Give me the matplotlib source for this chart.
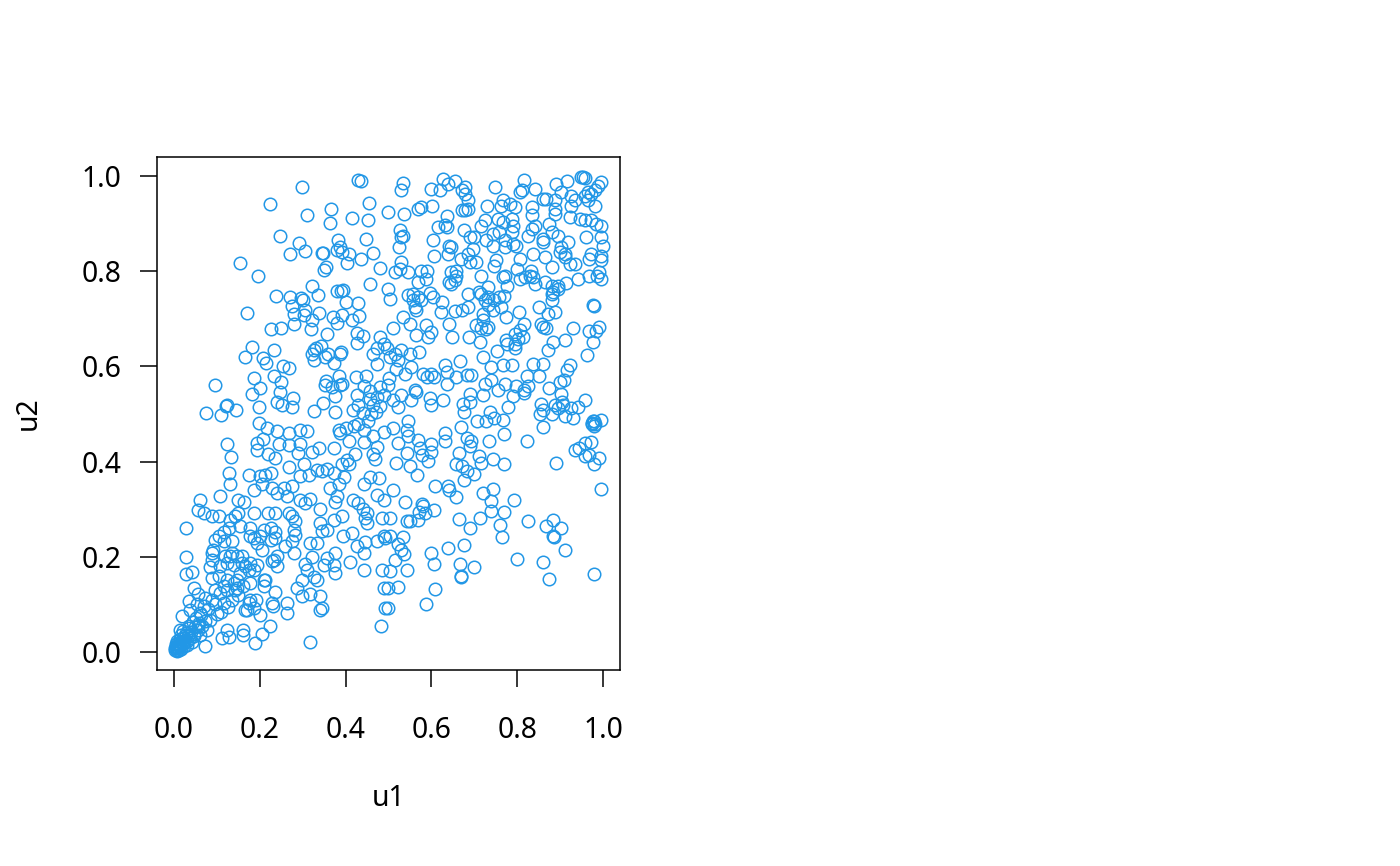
import numpy as np
import matplotlib
matplotlib.use('Agg')
import matplotlib.pyplot as plt

# values, grouped by region of the plot
upper_left_u1 = [.298, .224, .309, .430, .436, .454, .366, .364, .416, .453,
                 .246, .291, .271, .305, .383, .387, .380, .391, .345, .347,
                 .447, .465, .407, .404, .436, .155, .196, .355, .350, .480,
                 .457, .322, .238, .270, .296, .300, .335, .274, .379, .390,
                 .394, .400, .430, .170, .279, .306, .302, .279, .339, .370,
                 .381, .392, .415, .432, .226, .250, .320, .322, .357, .426,
                 .441, .427, .481, .489, .473, .465, .474, .496, .182, .234,
                 .166, .207, .215, .326, .322, .332, .343, .326, .353, .358,
                 .372, .386, .390, .254, .267, .234, .249, .187, .201, .182,
                 .096, .246, .277, .240, .251, .275, .198, .124, .121, .145,
                 .074, .110, .354, .353, .384, .368, .388, .376, .392, .424,
                 .448, .444, .426, .347, .327, .376, .430, .418, .473, .481,
                 .457, .489, .465, .499, .480, .470, .456, .440, .500, .510]
upper_left_u2 = [.977, .941, .919, .991, .989, .944, .930, .902, .912, .907,
                 .873, .860, .837, .842, .865, .851, .845, .840, .838, .838,
                 .867, .839, .836, .817, .826, .818, .789, .809, .802, .806,
                 .773, .770, .748, .745, .743, .739, .751, .727, .758, .759,
                 .761, .736, .734, .713, .711, .718, .708, .690, .713, .704,
                 .692, .709, .697, .706, .678, .680, .678, .697, .669, .671,
                 .663, .649, .662, .648, .638, .626, .605, .638, .640, .634,
                 .620, .618, .607, .634, .627, .638, .643, .613, .620, .627,
                 .608, .627, .630, .600, .597, .579, .567, .576, .554, .543,
                 .560, .547, .533, .526, .519, .514, .515, .518, .516, .509,
                 .502, .497, .569, .560, .579, .557, .560, .538, .564, .578,
                 .579, .558, .539, .524, .507, .505, .518, .508, .535, .557,
                 .532, .541, .520, .560, .517, .505, .548, .503, .575, .530]

upper_right_u1 = [.534, .528, .600, .619, .628, .639, .654, .679, .671, .678,
                  .749, .817, .812, .806, .841, .890, .916, .949, .954, .958,
                  .996, .988, .981, .973, .965, .957, .902, .926, .934, .981,
                  .887, .965, .499, .537, .568, .576, .602, .685, .678, .671,
                  .685, .730, .766, .762, .784, .795, .834, .834, .860, .868,
                  .887, .888, .923, .926, .957, .946, .972, .995, .983, .636,
                  .631, .615, .637, .675, .724, .716, .755, .766, .787, .790,
                  .526, .534, .530, .524, .603, .607, .642, .646, .639, .689,
                  .700, .728, .743, .758, .787, .772, .790, .772, .743, .798,
                  .834, .826, .842, .875, .880, .895, .860, .860, .918, .961,
                  .995, .999, .903, .899, .911, .973, .968, .995, .995, .922,
                  .934, .911, .837, .864, .880, .807, .696, .685, .670, .689,
                  .704, .751, .747, .799, .771, .766, .530, .514, .545, .526,
                  .576, .590, .588, .569, .658, .646, .658, .642, .654, .646,
                  .716, .833, .837, .829, .841, .864, .880, .895, .914, .941,
                  .968, .987, .995, .991, .818, .806, .777, .731, .685, .712,
                  .884, .895, .499, .503, .545, .556, .556, .568, .576, .597,
                  .603, .625, .622, .565, .562, .655, .672, .686, .716, .724,
                  .731, .747, .758, .770, .731, .762, .743, .773, .720, .805,
                  .851, .887, .872, .880, .880, .534, .549, .588, .600, .510,
                  .565, .592, .642, .648, .687, .705, .720, .731, .716, .727,
                  .713, .773, .796, .817, .807, .801, .794, .813, .796, .777,
                  .856, .860, .868, .930, .911, .884, .872, .968, .991, .983,
                  .976, .963, .978, .977, .752, .721, .740, .766, .787, .837,
                  .859, .822, .851, .922, .915, .910, .899, .874, .903, .957,
                  .942, .666, .631, .636, .636, .600, .580, .590, .607, .682,
                  .693, .658, .572, .530, .514, .549, .522, .503, .553, .518,
                  .538, .724, .740, .771, .755, .720, .689, .673, .689, .798,
                  .817, .826, .817, .790, .561, .565, .530, .553, .596, .627,
                  .600, .522, .778, .736, .856, .860, .887, .906, .926, .677]
upper_right_u2 = [.986, .970, .973, .970, .994, .984, .989, .978, .970, .963,
                  .978, .992, .970, .966, .973, .984, .989, .998, .998, .995,
                  .987, .980, .970, .963, .966, .959, .966, .959, .949, .938,
                  .949, .949, .924, .921, .931, .935, .937, .949, .928, .928,
                  .931, .938, .949, .938, .942, .935, .935, .918, .952, .952,
                  .931, .921, .914, .938, .907, .910, .907, .896, .900, .917,
                  .897, .893, .893, .886, .907, .896, .910, .903, .910, .896,
                  .887, .875, .872, .851, .865, .831, .854, .851, .837, .872,
                  .872, .865, .879, .882, .882, .865, .858, .851, .854, .854,
                  .889, .875, .896, .900, .882, .875, .868, .861, .861, .872,
                  .872, .854, .851, .840, .837, .837, .826, .833, .823, .816,
                  .816, .830, .836, .830, .809, .826, .847, .837, .826, .820,
                  .820, .823, .812, .805, .791, .788, .819, .798, .798, .805,
                  .801, .801, .784, .777, .801, .798, .791, .777, .781, .773,
                  .791, .801, .787, .791, .774, .777, .770, .770, .775, .784,
                  .791, .791, .784, .798, .788, .784, .770, .767, .753, .756,
                  .756, .763, .763, .742, .750, .753, .739, .745, .739, .755,
                  .745, .735, .714, .718, .725, .716, .718, .725, .753, .739,
                  .746, .739, .745, .749, .729, .725, .718, .704, .711, .714,
                  .725, .714, .711, .753, .739, .704, .690, .687, .673, .680,
                  .665, .662, .690, .662, .662, .687, .697, .683, .680, .678,
                  .651, .655, .648, .690, .676, .658, .668, .662, .638, .648,
                  .690, .683, .680, .680, .655, .651, .635, .674, .683, .674,
                  .651, .623, .727, .729, .633, .620, .599, .602, .602, .606,
                  .606, .579, .579, .603, .592, .571, .568, .554, .543, .529,
                  .515, .612, .603, .588, .564, .585, .585, .578, .578, .581,
                  .581, .578, .630, .634, .627, .627, .613, .620, .599, .595,
                  .585, .564, .571, .564, .550, .539, .543, .522, .525, .558,
                  .551, .558, .545, .538, .550, .546, .540, .529, .533, .529,
                  .519, .514, .515, .504, .522, .508, .519, .519, .512, .504]

lower_right_u1 = [.546, .542, .545, .510, .569, .522, .542, .573, .600, .600,
                  .577, .592, .518, .549, .566, .632, .631, .670, .684, .693,
                  .689, .664, .658, .672, .682, .676, .700, .706, .728, .747,
                  .766, .734, .769, .823, .860, .743, .712, .716, .770, .891,
                  .852, .880, .911, .930, .996, .977, .979, .934, .945, .957,
                  .973, .957, .968, .991, .979, .995, .510, .608, .638, .641,
                  .657, .538, .577, .580, .572, .585, .568, .607, .542, .549,
                  .503, .720, .743, .739, .793, .770, .740, .713, .664, .690,
                  .759, .765, .825, .868, .883, .901, .883, .886, .911, .860,
                  .800, .873, .980, .534, .522, .530, .536, .515, .503, .503,
                  .544, .522, .499, .499, .588, .609, .598, .605, .639, .677,
                  .666, .700, .670, .668, .978, .975, .895, .905, .974, .982]
lower_right_u2 = [.485, .467, .453, .471, .446, .439, .419, .428, .436, .421,
                  .414, .401, .397, .390, .372, .460, .443, .473, .450, .443,
                  .432, .419, .394, .390, .380, .362, .373, .485, .485, .492,
                  .488, .443, .457, .444, .473, .406, .411, .397, .395, .398,
                  .499, .499, .495, .492, .488, .485, .474, .425, .428, .439,
                  .442, .411, .414, .407, .394, .342, .341, .349, .349, .340,
                  .325, .316, .310, .306, .295, .292, .278, .299, .275, .275,
                  .281, .335, .343, .317, .319, .295, .297, .281, .279, .261,
                  .267, .242, .275, .265, .277, .261, .243, .241, .215, .190,
                  .196, .153, .163, .242, .226, .215, .205, .194, .243, .170,
                  .173, .137, .135, .092, .101, .133, .208, .185, .218, .224,
                  .185, .179, .159, .157, .486, .480, .512, .525, .482, .478]

lower_left_u1 = [.124, .133, .129, .131, .108, .061, .057, .069, .089, .104,
                 .028, .027, .027, .042, .176, .201, .225, .213, .186, .205,
                 .228, .240, .256, .275, .263, .193, .193, .207, .220, .240,
                 .267, .294, .310, .244, .267, .294, .290, .236, .267, .337,
                 .322, .197, .217, .302, .294, .314, .333, .345, .294, .306,
                 .318, .341, .275, .282, .279, .283, .275, .279, .259, .267,
                 .236, .220, .186, .150, .164, .150, .131, .225, .236, .201,
                 .186, .225, .178, .116, .104, .135, .092, .089, .085, .147,
                 .131, .124, .140, .159, .166, .186, .178, .155, .139, .124,
                 .142, .232, .240, .213, .209, .236, .228, .230, .178, .170,
                 .201, .263, .263, .341, .357, .372, .392, .345, .376, .357,
                 .349, .372, .376, .411, .442, .415, .395, .427, .446, .442,
                 .318, .333, .322, .306, .310, .298, .326, .333, .287, .298,
                 .318, .341, .345, .341, .318, .223, .204, .188, .161, .161,
                 .124, .128, .112, .072, .430, .440, .450, .446, .450, .418,
                 .380, .376, .364, .384, .396, .407, .403, .392, .372, .421,
                 .465, .469, .457, .442, .478, .473, .489, .485, .489, .473,
                 .493, .485, .489, .493, .483, .372, .388, .384, .419, .442,
                 .407, .442, .465, .489, .473, .357, .430, .452, .460, .400]
lower_left_u2 = [.438, .410, .377, .352, .327, .320, .299, .293, .285, .285,
                 .260, .199, .163, .168, .371, .369, .376, .372, .341, .352,
                 .345, .334, .345, .348, .327, .439, .424, .447, .417, .464,
                 .460, .467, .464, .436, .434, .436, .418, .408, .388, .429,
                 .421, .481, .470, .394, .369, .371, .383, .380, .320, .313,
                 .321, .300, .285, .275, .257, .246, .233, .208, .222, .292,
                 .293, .292, .292, .320, .315, .292, .278, .260, .253, .243,
                 .239, .236, .260, .253, .243, .233, .215, .208, .179, .201,
                 .201, .187, .183, .201, .180, .173, .187, .166, .145, .131,
                 .131, .194, .180, .152, .138, .127, .102, .097, .110, .089,
                 .078, .104, .082, .271, .257, .278, .285, .255, .208, .197,
                 .183, .183, .165, .190, .173, .250, .243, .222, .232, .208,
                 .228, .228, .200, .185, .173, .152, .158, .152, .135, .118,
                 .122, .118, .092, .089, .021, .054, .038, .018, .047, .036,
                 .047, .032, .030, .012, .313, .300, .292, .281, .270, .320,
                 .327, .316, .345, .352, .367, .396, .404, .394, .376, .415,
                 .415, .405, .368, .352, .365, .330, .320, .281, .243, .233,
                 .240, .173, .135, .092, .055, .428, .460, .467, .474, .467,
                 .444, .442, .453, .463, .430, .385, .478, .486, .500, .470]

corner_u1 = [.046, .034, .054, .069, .089, .108, .116, .135, .147, .162,
             .178, .174, .190, .166, .186, .019, .038, .061, .085, .100,
             .015, .034, .057, .077, .046, .061, .027, .089, .104, .124,
             .057, .073, .096, .089, .108, .120, .135, .159, .174, .193,
             .209, .116, .147, .128, .143, .116, .096, .155, .178, .193,
             .209, .236, .205, .240, .228, .003, .006, .005, .010, .012,
             .008, .015, .018, .014, .022, .025, .020, .030, .032, .028,
             .038, .040, .035, .047, .050, .044, .056, .058, .065, .052,
             .062, .072, .003, .007, .011, .004, .017, .009, .024, .013,
             .030, .006, .016, .022, .041, .080, .095, .110, .125, .150]
corner_u2 = [.135, .107, .100, .096, .110, .124, .103, .110, .135, .138,
             .145, .103, .110, .089, .092, .075, .089, .082, .068, .079,
             .047, .054, .054, .047, .033, .036, .036, .155, .159, .152,
             .121, .113, .131, .194, .180, .201, .208, .187, .173, .183,
             .152, .138, .152, .260, .285, .233, .236, .264, .243, .229,
             .257, .240, .215, .201, .191, .004, .005, .010, .008, .014,
             .013, .012, .020, .022, .017, .026, .030, .024, .034, .040,
             .030, .042, .050, .038, .052, .062, .046, .060, .055, .072,
             .078, .066, .009, .003, .004, .016, .007, .018, .012, .028,
             .015, .024, .035, .045, .022, .090, .100, .085, .095, .120]

ticks = [0.0, 0.2, 0.4, 0.6, 0.8, 1.0]

u1 = np.array(upper_left_u1 + upper_right_u1 + lower_right_u1 + lower_left_u1 + corner_u1)
u2 = np.array(upper_left_u2 + upper_right_u2 + lower_right_u2 + lower_left_u2 + corner_u2)

plt.rcParams['font.family'] = ['Noto Sans', 'DejaVu Sans']

fig = plt.figure(figsize=(7, 4.33), dpi=200)
ax = fig.add_axes([157 / 1400, 1 - 670 / 866, 463 / 1400, 513 / 866])
ax.plot(u1, u2, 'o', mfc='none', mec='#2297E6', ms=4.5, mew=0.55, clip_on=True)
ax.set_xlim(-0.0396, 1.0396)
ax.set_ylim(-0.0378, 1.04)
ax.set_xticks(ticks)
ax.set_yticks(ticks)
ax.set_xticklabels(['%.1f' % t for t in ticks])
ax.set_yticklabels(['%.1f' % t for t in ticks])
ax.tick_params(length=6.2, width=0.55, labelsize=10.2, pad=6.5)
ax.tick_params(axis='x', pad=10.5)
for s in ax.spines.values():
    s.set_linewidth(0.55)
ax.set_xlabel('u1', fontsize=10.2, labelpad=14)
ax.set_ylabel('u2', fontsize=10.2, labelpad=14)

fig.savefig('out.png', dpi=200)
